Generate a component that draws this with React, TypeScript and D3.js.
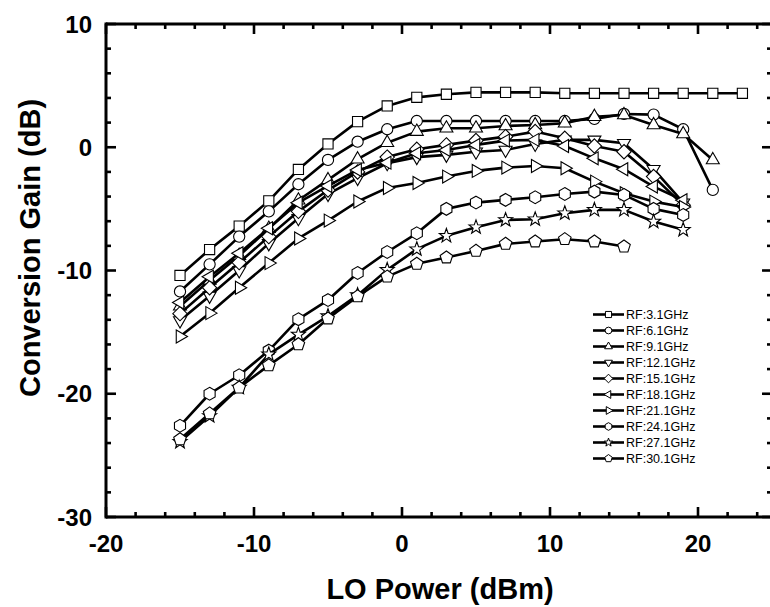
import React from "react";
import * as d3 from "d3";

// ---- data ----
const LO_POWER = [-15, -13, -11, -9, -7, -5, -3, -1, 1, 3, 5, 7, 9, 11, 13, 15, 17, 19, 21, 23];

const RF_3_1 = [-10.4, -8.3, -6.4, -4.35, -1.8, 0.27, 2.08, 3.35, 4.05, 4.3, 4.45, 4.45, 4.45, 4.38, 4.38, 4.38, 4.38, 4.38, 4.38, 4.38];
const RF_6_1 = [-11.7, -9.5, -7.25, -5.2, -3.0, -1.03, 0.45, 1.46, 2.13, 2.13, 2.13, 2.13, 2.13, 2.13, 2.3, 2.7, 2.65, 1.46, -3.46];
const RF_9_1 = [-12.9, -10.8, -8.8, -6.6, -4.3, -2.65, -0.97, 0.37, 1.27, 1.54, 1.54, 1.73, 1.81, 1.95, 2.48, 2.62, 1.81, 1.08, -1.03];
const RF_12_1 = [-14.06, -12.06, -10.0, -7.8, -5.76, -3.8, -2.5, -1.3, -0.8, -0.62, -0.36, -0.22, 0.27, 0.6, 0.6, 0.32, -1.78, -4.5];
const RF_15_1 = [-13.5, -11.4, -9.36, -7.25, -5.2, -3.47, -2.0, -0.8, -0.16, 0.19, 0.54, 0.86, 1.27, 0.73, 0.1, -0.36, -2.38, -4.7];
const RF_18_1 = [-12.6, -10.5, -8.6, -6.57, -4.5, -3.14, -1.84, -1.25, -0.49, -0.22, 0.19, 0.54, 0.6, 0.1, -0.9, -1.78, -3.19, -4.3];
const RF_21_1 = [-15.36, -13.46, -11.4, -9.4, -7.4, -5.95, -4.4, -3.3, -2.9, -2.38, -1.92, -1.65, -1.52, -1.7, -2.79, -3.73, -4.41, -4.85];
const RF_24_1 = [-22.6, -20.0, -18.5, -16.5, -13.95, -12.4, -10.2, -8.5, -6.98, -5.0, -4.49, -4.27, -4.06, -3.79, -3.6, -3.87, -5.0, -5.49];
const RF_27_1 = [-23.9, -21.8, -19.5, -16.8, -15.2, -13.7, -12.0, -9.95, -8.27, -7.19, -6.49, -5.9, -5.84, -5.35, -5.08, -5.08, -6.03, -6.7];
const RF_30_1 = [-23.7, -21.6, -19.5, -17.7, -16.0, -13.9, -12.1, -10.5, -9.46, -8.95, -8.41, -7.84, -7.65, -7.46, -7.65, -8.06];

const SERIES_NAMES = ["RF:3.1GHz", "RF:6.1GHz", "RF:9.1GHz", "RF:12.1GHz", "RF:15.1GHz", "RF:18.1GHz", "RF:21.1GHz", "RF:24.1GHz", "RF:27.1GHz", "RF:30.1GHz"];
const SERIES_VALUES = [RF_3_1, RF_6_1, RF_9_1, RF_12_1, RF_15_1, RF_18_1, RF_21_1, RF_24_1, RF_27_1, RF_30_1];
const SERIES_SYMBOLS = ["square", "circle", "triUp", "triDown", "diamond", "triLeft", "triRight", "hexagon", "star", "pentagon"];

const X_MAJOR = [-20, -10, 0, 10, 20];
const Y_MAJOR = [-30, -20, -10, 0, 10];

// ---- layout ----
const W = 770;
const H = 607;
const X0 = 106;
const X1 = 772;
const Y0 = 517;
const Y1 = 24;

const FONT = "'Liberation Sans', Arial, sans-serif";

function polygon(n: number, r: number, startDeg: number): string {
  const pts: string[] = [];
  for (let i = 0; i < n; i++) {
    const a = ((startDeg + (360 / n) * i) * Math.PI) / 180;
    pts.push(`${(r * Math.cos(a)).toFixed(2)},${(r * Math.sin(a)).toFixed(2)}`);
  }
  return "M" + pts.join("L") + "Z";
}

function star(ro: number, ri: number): string {
  const pts: string[] = [];
  for (let i = 0; i < 10; i++) {
    const r = i % 2 === 0 ? ro : ri;
    const a = ((-90 + 36 * i) * Math.PI) / 180;
    pts.push(`${(r * Math.cos(a)).toFixed(2)},${(r * Math.sin(a)).toFixed(2)}`);
  }
  return "M" + pts.join("L") + "Z";
}

function symbolPath(kind: string, s: number): string {
  switch (kind) {
    case "square":
      return polygon(4, 7.2 * s, 45);
    case "circle":
      return d3.arc()({ innerRadius: 0, outerRadius: 5.6 * s, startAngle: 0, endAngle: Math.PI * 2 }) as string;
    case "triUp":
      return polygon(3, 7.5 * s, -90);
    case "triDown":
      return polygon(3, 7.5 * s, 90);
    case "triLeft":
      return polygon(3, 7.5 * s, 180);
    case "triRight":
      return polygon(3, 7.5 * s, 0);
    case "diamond":
      return polygon(4, 7.2 * s, -90);
    case "hexagon":
      return polygon(6, 6.4 * s, -90);
    case "pentagon":
      return polygon(5, 6.6 * s, -90);
    case "star":
      return star(7.4 * s, 3.0 * s);
  }
  return "";
}

export default function App() {
  const x = d3.scaleLinear().domain([-20, 25]).range([X0, X1]);
  const y = d3.scaleLinear().domain([-30, 10]).range([Y0, Y1]);
  const line = d3
    .line<[number, number]>()
    .x((d) => x(d[0]))
    .y((d) => y(d[1]));

  const xMinor = d3.range(-20, 26, 2).filter((v) => v % 10 !== 0);
  const yMinor = d3.range(-30, 11, 2).filter((v) => v % 10 !== 0);
  const xAllMajor = [-20, -10, 0, 10, 20];

  const legendX = 593;
  const legendY0 = 314.5;
  const legendStep = 16;

  return (
    <svg
      width={W}
      height={H}
      style={{ position: "absolute", left: 0, top: 0, background: "#fff" }}
      fontFamily={FONT}
    >
      <rect x={0} y={0} width={W} height={H} fill="#fff" />

      {/* series */}
      {SERIES_VALUES.map((vals, si) => {
        const pts: [number, number][] = vals.map((v, i) => [LO_POWER[i], v]);
        return (
          <g key={si}>
            <path d={line(pts) as string} fill="none" stroke="#000" strokeWidth={2.6} strokeLinejoin="round" />
            {pts.map((p, i) => (
              <path
                key={i}
                d={symbolPath(SERIES_SYMBOLS[si], 1)}
                transform={`translate(${x(p[0])},${y(p[1])})`}
                fill="#fff"
                stroke="#000"
                strokeWidth={1.1}
              />
            ))}
          </g>
        );
      })}

      {/* axes frame */}
      <g stroke="#000" strokeWidth={3} fill="none">
        <line x1={X0} y1={Y0} x2={X1} y2={Y0} />
        <line x1={X0} y1={Y1} x2={X1} y2={Y1} />
        <line x1={X0} y1={Y1 - 1.5} x2={X0} y2={Y0 + 1.5} />
        <line x1={X1} y1={Y1 - 1.5} x2={X1} y2={Y0 + 1.5} />
      </g>

      {/* ticks */}
      <g stroke="#000" strokeWidth={2.6}>
        {xAllMajor.map((v) => (
          <g key={"xm" + v}>
            <line x1={x(v)} x2={x(v)} y1={Y0} y2={Y0 - 10} />
            <line x1={x(v)} x2={x(v)} y1={Y1} y2={Y1 + 10} />
          </g>
        ))}
        {xMinor.map((v) => (
          <g key={"xn" + v}>
            <line x1={x(v)} x2={x(v)} y1={Y0} y2={Y0 - 5} />
            <line x1={x(v)} x2={x(v)} y1={Y1} y2={Y1 + 5} />
          </g>
        ))}
        {Y_MAJOR.map((v) => (
          <g key={"ym" + v}>
            <line x1={X0} x2={X0 + 10} y1={y(v)} y2={y(v)} />
            <line x1={X1} x2={X1 - 10} y1={y(v)} y2={y(v)} />
          </g>
        ))}
        {yMinor.map((v) => (
          <g key={"yn" + v}>
            <line x1={X0} x2={X0 + 5} y1={y(v)} y2={y(v)} />
            <line x1={X1} x2={X1 - 5} y1={y(v)} y2={y(v)} />
          </g>
        ))}
      </g>

      {/* tick labels */}
      <g fontSize={24} fontWeight="bold" fill="#000">
        {X_MAJOR.map((v) => (
          <text key={"xl" + v} x={x(v)} y={552} textAnchor="middle">
            {v}
          </text>
        ))}
        {Y_MAJOR.map((v) => (
          <text key={"yl" + v} x={92} y={y(v)} dy="0.36em" textAnchor="end">
            {v}
          </text>
        ))}
      </g>

      {/* axis titles */}
      <text x={440} y={599} textAnchor="middle" fontSize={29} fontWeight="bold">
        LO Power (dBm)
      </text>
      <text
        transform={`translate(40,248) rotate(-90)`}
        textAnchor="middle"
        fontSize={29}
        fontWeight="bold"
      >
        Conversion Gain (dB)
      </text>

      {/* legend */}
      {SERIES_NAMES.map((name, i) => {
        const ly = legendY0 + legendStep * i;
        return (
          <g key={"lg" + i}>
            <line x1={legendX} x2={legendX + 31} y1={ly} y2={ly} stroke="#000" strokeWidth={2.6} />
            <path
              d={symbolPath(SERIES_SYMBOLS[i], 0.6)}
              transform={`translate(${legendX + 15.5},${ly})`}
              fill="#fff"
              stroke="#000"
              strokeWidth={1}
            />
            <text x={legendX + 33} y={ly} dy="0.36em" fontSize={12.5}>
              {name}
            </text>
          </g>
        );
      })}
    </svg>
  );
}
